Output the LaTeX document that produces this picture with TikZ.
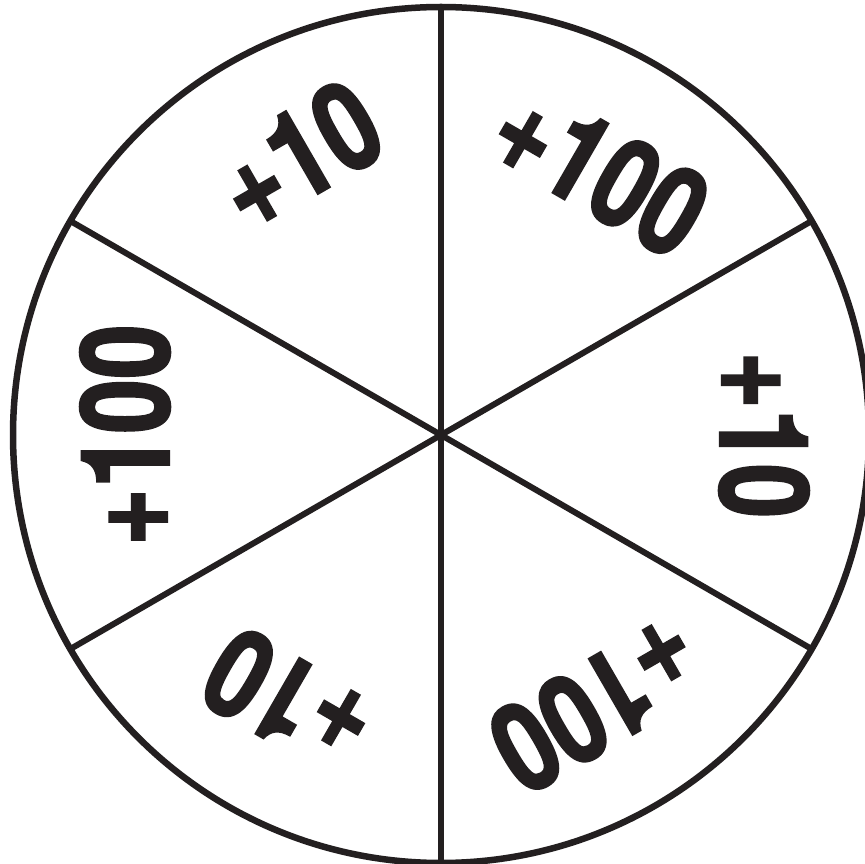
\documentclass[tikz,border=0pt]{standalone}
\usepackage{fontspec}
\newfontfamily\numfont{TeX Gyre Heros}[BoldFeatures={FakeBold=2}]
\usetikzlibrary{calc}
\definecolor{ink}{HTML}{231F20}
\begin{document}
\begin{tikzpicture}[x=1pt,y=1pt,
  rim/.style={line width=6.5pt,draw=ink},
  spoke/.style={line width=6pt,draw=ink},
  lbl/.style={inner sep=0pt,text height=88pt,text depth=0pt,text=ink,
    font=\numfont\fontsize{123}{123}\selectfont\bfseries}]
\useasboundingbox (0,0) rectangle (865,863);
\fill[white] (0,0) rectangle (865,863);
\coordinate (c) at (441,428);
\draw[rim] (c) circle (428);
\foreach \a/\n in {90/a,30/b,-30/c1,-90/d,-150/e,150/f}{
  \coordinate (p\n) at ($(c)+(\a:428)$);
}
\draw[spoke] (pa) -- (pd);
\draw[spoke] (pb) -- (pe);
\draw[spoke] (pf) -- (pc1);
\node[lbl,rotate=-30] (l1) at ($(c)+(59:310)$) {\scalebox{0.8}[1]{+100}};
\node[lbl,rotate=-90] (l2) at ($(c)+(0:323)$) {\scalebox{0.8}[1]{+10}};
\node[lbl,rotate=-150] (l3) at ($(c)+(-60:312)$) {\scalebox{0.8}[1]{+100}};
\node[lbl,rotate=150] (l4) at ($(c)+(-120:308)$) {\scalebox{0.8}[1]{+10}};
\node[lbl,rotate=90] (l5) at ($(c)+(180:316)$) {\scalebox{0.8}[1]{+100}};
\node[lbl,rotate=30] (l6) at ($(c)+(117:315)$) {\scalebox{0.8}[1]{+10}};
\end{tikzpicture}
\end{document}
